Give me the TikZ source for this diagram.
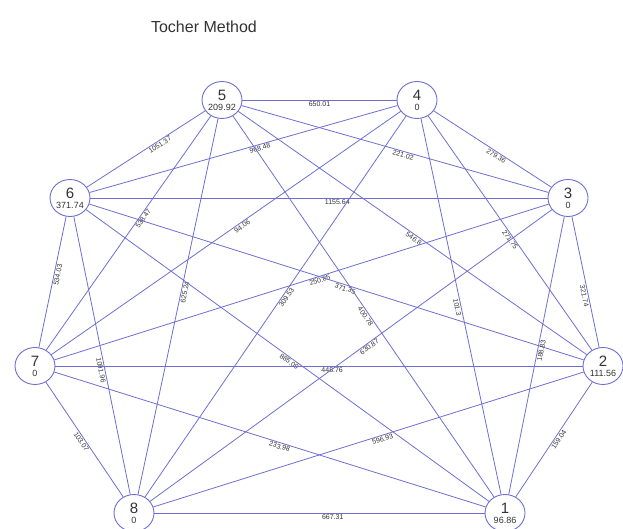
\documentclass[tikz,border=0pt]{standalone}
\usepackage{fontspec}
\setmainfont{Liberation Sans}
\usepackage{tikz}
\usetikzlibrary{shapes.geometric}
\definecolor{edgeblue}{HTML}{6E6ED2}
\definecolor{textgray}{HTML}{333333}

\begin{document}
\begin{tikzpicture}[
    x=1pt, y=-1pt,
    clu/.style={draw=edgeblue, line width=0.9pt, ellipse, minimum width=40pt, minimum height=37pt, inner sep=0pt, align=center, font=\fontsize{15}{12}\selectfont, text=textgray},
    edge/.style={draw=edgeblue, line width=0.8pt},
    dist/.style={sloped, below, font=\fontsize{7}{7}\selectfont, inner sep=1pt, text=textgray}
]
\useasboundingbox (0,0) rectangle (623,529);
\node[font=\fontsize{16}{16}\selectfont, text=textgray] (title) at (204,27) {Tocher Method};

% clusters
\node[clu] (n5) at (222,100) {5\\[-2pt]{\fontsize{9}{9}\selectfont 209.92}};
\node[clu] (n4) at (417,100) {4\\[-2pt]{\fontsize{9}{9}\selectfont 0}};
\node[clu] (n6) at (70,198) {6\\[-2pt]{\fontsize{9}{9}\selectfont 371.74}};
\node[clu] (n3) at (568,198) {3\\[-2pt]{\fontsize{9}{9}\selectfont 0}};
\node[clu] (n7) at (35,366) {7\\[-2pt]{\fontsize{9}{9}\selectfont 0}};
\node[clu] (n2) at (603,366) {2\\[-2pt]{\fontsize{9}{9}\selectfont 111.56}};
\node[clu] (n8) at (134,513) {8\\[-2pt]{\fontsize{9}{9}\selectfont 0}};
\node[clu] (n1) at (505,513) {1\\[-2pt]{\fontsize{9}{9}\selectfont 96.86}};

% distances between clusters
\draw[edge] (n5) -- node[dist, pos=.5] {650.01} (n4);
\draw[edge] (n5) -- node[dist, pos=.4] {1051.37} (n6);
\draw[edge] (n4) -- node[dist, pos=.45] {968.48} (n6);
\draw[edge] (n5) -- node[dist, pos=.53] {221.02} (n3);
\draw[edge] (n4) -- node[dist, pos=.55] {279.36} (n3);
\draw[edge] (n6) -- node[dist, pos=.54] {1155.64} (n3);
\draw[edge] (n5) -- node[dist, pos=.43] {538.47} (n7);
\draw[edge] (n4) -- node[dist, pos=.46] {94.06} (n7);
\draw[edge] (n5) -- node[dist, pos=.51] {546.8} (n2);
\draw[edge] (n4) -- node[dist, pos=.52] {271.75} (n2);
\draw[edge] (n3) -- node[dist, pos=.6] {321.74} (n2);
\draw[edge] (n6) -- node[dist, pos=.44] {534.03} (n7);
\draw[edge] (n5) -- node[dist, pos=.46] {625.24} (n8);
\draw[edge] (n4) -- node[dist, pos=.47] {309.53} (n8);
\draw[edge] (n7) -- node[dist, pos=.535] {250.85} (n3);
\draw[edge] (n6) -- node[dist, pos=.52] {371.35} (n2);
\draw[edge] (n5) -- node[dist, pos=.52] {400.78} (n1);
\draw[edge] (n4) -- node[dist, pos=.5] {101.3} (n1);
\draw[edge] (n3) -- node[dist, pos=.48] {188.83} (n1);
\draw[edge] (n6) -- node[dist, pos=.55] {1091.96} (n8);
\draw[edge] (n6) -- node[dist, pos=.51] {885.09} (n1);
\draw[edge] (n7) -- node[dist, pos=.525] {448.76} (n2);
\draw[edge] (n8) -- node[dist, pos=.54] {630.87} (n3);
\draw[edge] (n7) -- node[dist, pos=.525] {233.98} (n1);
\draw[edge] (n8) -- node[dist, pos=.53] {596.93} (n2);
\draw[edge] (n7) -- node[dist, pos=.5] {103.07} (n8);
\draw[edge] (n2) -- node[dist, pos=.48] {159.04} (n1);
\draw[edge] (n8) -- node[dist, pos=.54] {667.31} (n1);
\end{tikzpicture}
\end{document}
